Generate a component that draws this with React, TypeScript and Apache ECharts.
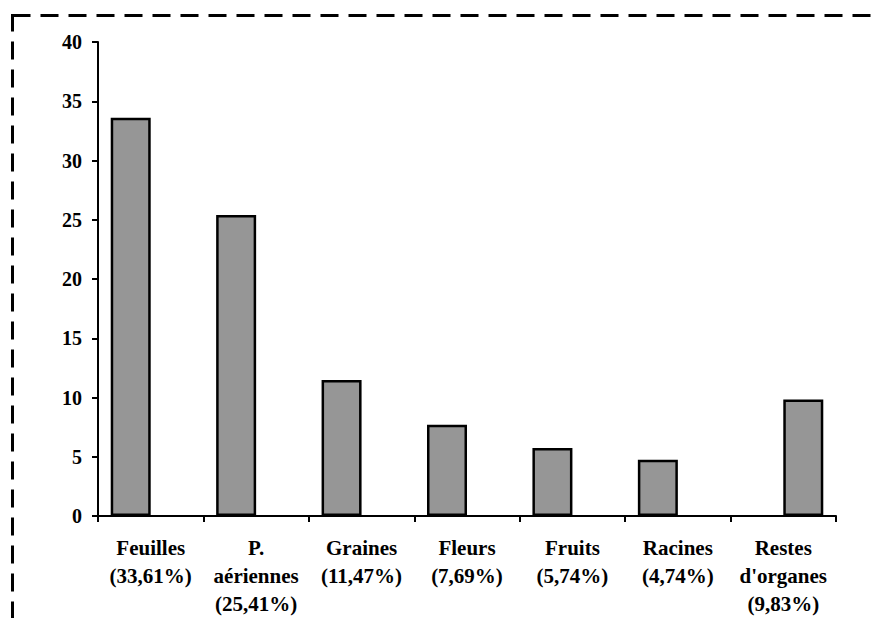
import React, { useEffect, useRef } from "react";
import * as echarts from "echarts";

const categories = [
  "Feuilles\n(33,61%)",
  "P.\naériennes\n(25,41%)",
  "Graines\n(11,47%)",
  "Fleurs\n(7,69%)",
  "Fruits\n(5,74%)",
  "Racines\n(4,74%)",
  "Restes\nd'organes\n(9,83%)",
];
const mainValues: (number | null)[] = [33.61, 25.41, 11.47, 7.69, 5.74, 4.74, null];
const otherValues: (number | null)[] = [null, null, null, null, null, null, 9.83];

const FONT = "'Liberation Serif', 'Times New Roman', serif";

export default function App() {
  const ref = useRef<HTMLDivElement>(null);
  useEffect(() => {
    if (!ref.current) return;
    const chart = echarts.init(ref.current, undefined, { renderer: "svg" });
    const barStyle = { color: "#969696", borderColor: "#000", borderWidth: 2.5 };
    chart.setOption({
      animation: false,
      backgroundColor: "#fff",
      grid: { left: 98, right: 38, top: 42, bottom: 101, containLabel: false },
      graphic: [
        {
          type: "rect",
          shape: { x: 12.5, y: 15.5, width: 1000, height: 800 },
          style: { fill: "none", stroke: "#000", lineWidth: 3, lineDash: [18, 10] },
          silent: true,
        },
      ],
      xAxis: {
        type: "category",
        data: categories,
        axisLine: { lineStyle: { color: "#000", width: 2 } },
        axisTick: { show: true, length: 6, lineStyle: { color: "#000", width: 2 } },
        axisLabel: {
          interval: 0,
          margin: 18,
          color: "#000",
          fontFamily: FONT,
          fontWeight: "bold",
          fontSize: 21,
          lineHeight: 28,
        },
      },
      yAxis: {
        type: "value",
        min: 0,
        max: 40,
        interval: 5,
        splitLine: { show: false },
        axisLine: { show: true, lineStyle: { color: "#000", width: 2 } },
        axisTick: { show: true, length: 6, lineStyle: { color: "#000", width: 2 } },
        axisLabel: {
          margin: 16,
          color: "#000",
          fontFamily: FONT,
          fontWeight: "bold",
          fontSize: 20,
        },
      },
      series: [
        { type: "bar", data: mainValues, barWidth: 40, barGap: "0%", itemStyle: barStyle },
        { type: "bar", data: otherValues, barWidth: 40, barGap: "0%", itemStyle: barStyle },
      ],
    });
    return () => chart.dispose();
  }, []);
  return <div ref={ref} style={{ width: 874, height: 618, position: "absolute", left: 0, top: 0 }} />;
}
